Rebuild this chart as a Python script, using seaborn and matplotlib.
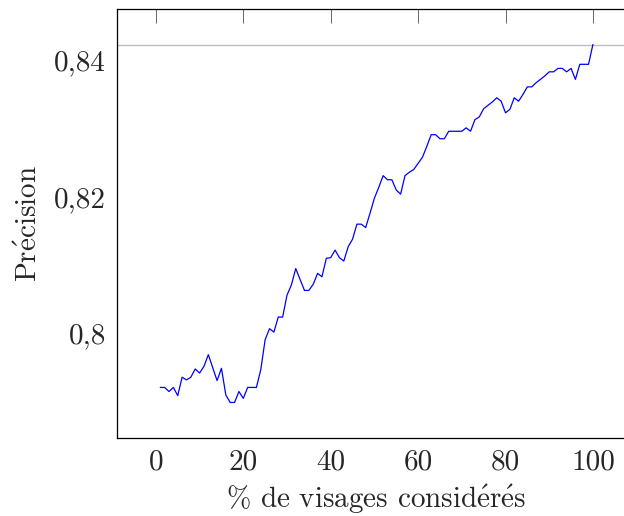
import numpy as np
import pandas as pd
import matplotlib
matplotlib.use("Agg")
import matplotlib.pyplot as plt
from matplotlib.ticker import FuncFormatter, FixedLocator
import seaborn as sns

# % of faces considered (x) and precision (y)
pct = list(range(1, 101))
precision = [
    0.7921, 0.7921, 0.7915, 0.7921, 0.7909, 0.7936, 0.7932, 0.7936, 0.7948, 0.7942,
    0.7952, 0.7969, 0.7950, 0.7931, 0.7949, 0.7910, 0.7899, 0.7899, 0.7915, 0.7905,
    0.7921, 0.7921, 0.7921, 0.7947, 0.7991, 0.8007, 0.8002, 0.8024, 0.8024, 0.8056,
    0.8071, 0.8095, 0.8079, 0.8063, 0.8063, 0.8072, 0.8088, 0.8083, 0.8110, 0.8111,
    0.8122, 0.8111, 0.8106, 0.8127, 0.8138, 0.8160, 0.8160, 0.8155, 0.8176, 0.8198,
    0.8214, 0.8231, 0.8225, 0.8225, 0.8210, 0.8204, 0.8231, 0.8236, 0.8240, 0.8249,
    0.8258, 0.8274, 0.8291, 0.8291, 0.8285, 0.8285, 0.8296, 0.8296, 0.8296, 0.8296,
    0.8301, 0.8296, 0.8313, 0.8317, 0.8329, 0.8334, 0.8339, 0.8345, 0.8340, 0.8323,
    0.8328, 0.8345, 0.8340, 0.8350, 0.8361, 0.8361, 0.8367, 0.8372, 0.8377, 0.8383,
    0.8383, 0.8388, 0.8388, 0.8383, 0.8388, 0.8372, 0.8394, 0.8394, 0.8394, 0.8423,
]
baseline = 0.8423
x_ticks = [0, 20, 40, 60, 80, 100]
y_ticks = [0.80, 0.82, 0.84]

sns.set_style("white")
plt.rcParams["font.family"] = ["cmr10", "DejaVu Serif"]
plt.rcParams["mathtext.fontset"] = "cm"
plt.rcParams["axes.formatter.use_mathtext"] = True

# cmr10 has no precomposed é, so build it with a mathtext accent
e_acute = r"$\mathrm{\acute{e}}$"

df = pd.DataFrame({"pct": pct, "precision": precision})

fig = plt.figure(figsize=(6.24, 5.16), dpi=100)
ax = fig.add_axes([0.1875, 0.1512, 0.832, 0.8314])

ax.axhline(baseline, color="#bdbdbd", lw=1.0, zorder=1)
sns.lineplot(data=df, x="pct", y="precision", ax=ax, color="blue", lw=0.9, zorder=2)

ax.set_xlim(-8.9, 109.9)
ax.set_ylim(0.7847, 0.8475)
ax.xaxis.set_major_locator(FixedLocator(x_ticks))
ax.yaxis.set_major_locator(FixedLocator(y_ticks))
ax.yaxis.set_major_formatter(FuncFormatter(lambda v, p: f"{v:g}".replace(".", ",")))
ax.xaxis.set_major_formatter(FuncFormatter(lambda v, p: f"{v:g}"))

ax.tick_params(direction="in", length=10, width=0.7, color="#666666",
               labelsize=21, top=True, right=False, pad=8)
for s in ax.spines.values():
    s.set_color("black")
    s.set_linewidth(0.9)

ax.set_xlabel("% de visages consid" + e_acute + "r" + e_acute + "s", fontsize=21, labelpad=5)
ax.set_ylabel("Pr" + e_acute + "cision", fontsize=21, labelpad=8)

fig.savefig("out.png", dpi=100)
